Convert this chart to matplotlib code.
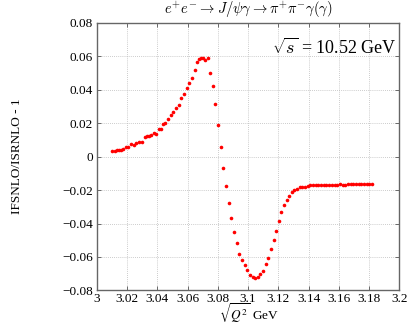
import matplotlib
matplotlib.use("Agg")
from matplotlib import pyplot as plt

# Values.
q_gev = [
    3.0102, 3.0120, 3.0133, 3.0146, 3.0159, 3.0173, 3.0190, 3.0208, 3.0226, 3.0244,
    3.0261, 3.0279, 3.0297, 3.0315, 3.0332, 3.0346, 3.0359, 3.0377, 3.0394, 3.0408,
    3.0421, 3.0434, 3.0452, 3.0470, 3.0487, 3.0505, 3.0523, 3.0540, 3.0558, 3.0576,
    3.0594, 3.0611, 3.0629, 3.0647, 3.0664, 3.0678, 3.0691, 3.0700, 3.0718, 3.0735,
    3.0751, 3.0769, 3.0784, 3.0802, 3.0820, 3.0836, 3.0855, 3.0873, 3.0890, 3.0906,
    3.0924, 3.0941, 3.0959, 3.0977, 3.0994, 3.1012, 3.1030, 3.1048, 3.1065, 3.1081,
    3.1099, 3.1116, 3.1134, 3.1152, 3.1169, 3.1185, 3.1203, 3.1220, 3.1238, 3.1256,
    3.1274, 3.1289, 3.1307, 3.1324, 3.1342, 3.1360, 3.1378, 3.1395, 3.1413, 3.1431,
    3.1449, 3.1466, 3.1484, 3.1502, 3.1519, 3.1537, 3.1555, 3.1572, 3.1590, 3.1608,
    3.1625, 3.1643, 3.1661, 3.1678, 3.1696, 3.1714, 3.1731, 3.1749, 3.1767, 3.1784,
    3.1802, 3.1820,
]
ratio = [
    0.0031, 0.0035, 0.0037, 0.0039, 0.0041, 0.0047, 0.0057, 0.0059, 0.0075, 0.0067,
    0.0080, 0.0090, 0.0086, 0.0116, 0.0122, 0.0125, 0.0127, 0.0139, 0.0137, 0.0163,
    0.0167, 0.0198, 0.0202, 0.0224, 0.0251, 0.0267, 0.0290, 0.0310, 0.0353, 0.0376,
    0.0410, 0.0443, 0.0473, 0.0516, 0.0569, 0.0582, 0.0590, 0.0590, 0.0576, 0.0588,
    0.0502, 0.0425, 0.0312, 0.0188, 0.0057, -0.0066, -0.0175, -0.0276, -0.0369, -0.0449,
    -0.0518, -0.0584, -0.0618, -0.0651, -0.0680, -0.0708, -0.0720, -0.0725, -0.0718, -0.0704,
    -0.0684, -0.0645, -0.0604, -0.0555, -0.0496, -0.0443, -0.0386, -0.0329, -0.0292, -0.0259,
    -0.0237, -0.0210, -0.0198, -0.0192, -0.0184, -0.0182, -0.0180, -0.0173, -0.0171, -0.0171,
    -0.0170, -0.0170, -0.0169, -0.0167, -0.0169, -0.0168, -0.0168, -0.0167, -0.0167, -0.0166,
    -0.0167, -0.0168, -0.0166, -0.0166, -0.0165, -0.0165, -0.0164, -0.0164, -0.0163, -0.0162,
    -0.0164, -0.0161,
]
x_ticks = [3.0, 3.02, 3.04, 3.06, 3.08, 3.1, 3.12, 3.14, 3.16, 3.18, 3.2]
x_tick_labels = ["3", "3.02", "3.04", "3.06", "3.08", "3.1", "3.12", "3.14", "3.16", "3.18", "3.2"]
y_ticks = [-0.08, -0.06, -0.04, -0.02, 0.0, 0.02, 0.04, 0.06, 0.08]
y_tick_labels = ["\u22120.08", "\u22120.06", "\u22120.04", "\u22120.02", "0", "0.02", "0.04", "0.06", "0.08"]

plt.rcParams["font.family"] = ["Liberation Serif", "DejaVu Serif"]
plt.rcParams["mathtext.fontset"] = "cm"

fig = plt.figure(figsize=(4.09, 3.27), dpi=100)
ax = fig.add_axes([0.237, 0.112, 0.739, 0.818])

ax.plot(q_gev, ratio, linestyle="none", marker="o", markersize=2.6,
        color="red", markeredgewidth=0)

ax.set_xlim(3.0, 3.2)
ax.set_ylim(-0.08, 0.08)
ax.set_xticks(x_ticks)
ax.set_xticklabels(x_tick_labels)
ax.set_yticks(y_ticks)
ax.set_yticklabels(y_tick_labels)
ax.tick_params(direction="in", top=True, right=True, length=3,
               width=0.6, color="#555555", labelsize=9.5)
ax.tick_params(axis="x", pad=2)
ax.tick_params(axis="y", pad=3)
ax.grid(True, linestyle=(0, (1, 1.5)), color="#bbbbbb", linewidth=0.6)
for spine in ax.spines.values():
    spine.set_color("#666666")
    spine.set_linewidth(1.0)

ax.set_title(r"$e^{+}e^{-} \rightarrow J/\psi\gamma \rightarrow \pi^{+}\pi^{-}\gamma(\gamma)$",
             fontsize=10.5, pad=7)
# x label placed by hand so the tall radical stays inside the canvas
fig.text(0.608, 0.002, r"$\sqrt{Q^2}$ GeV", ha="center", va="bottom",
         fontsize=9.5, math_fontfamily="stix")
ax.set_ylabel("IFSNLO/ISRNLO - 1", fontsize=9.5, labelpad=28)
ax.text(0.99, 0.905, r"$\sqrt{s}$ = 10.52 GeV", transform=ax.transAxes,
        ha="right", va="center", fontsize=13)

fig.savefig("out.png", dpi=100)
